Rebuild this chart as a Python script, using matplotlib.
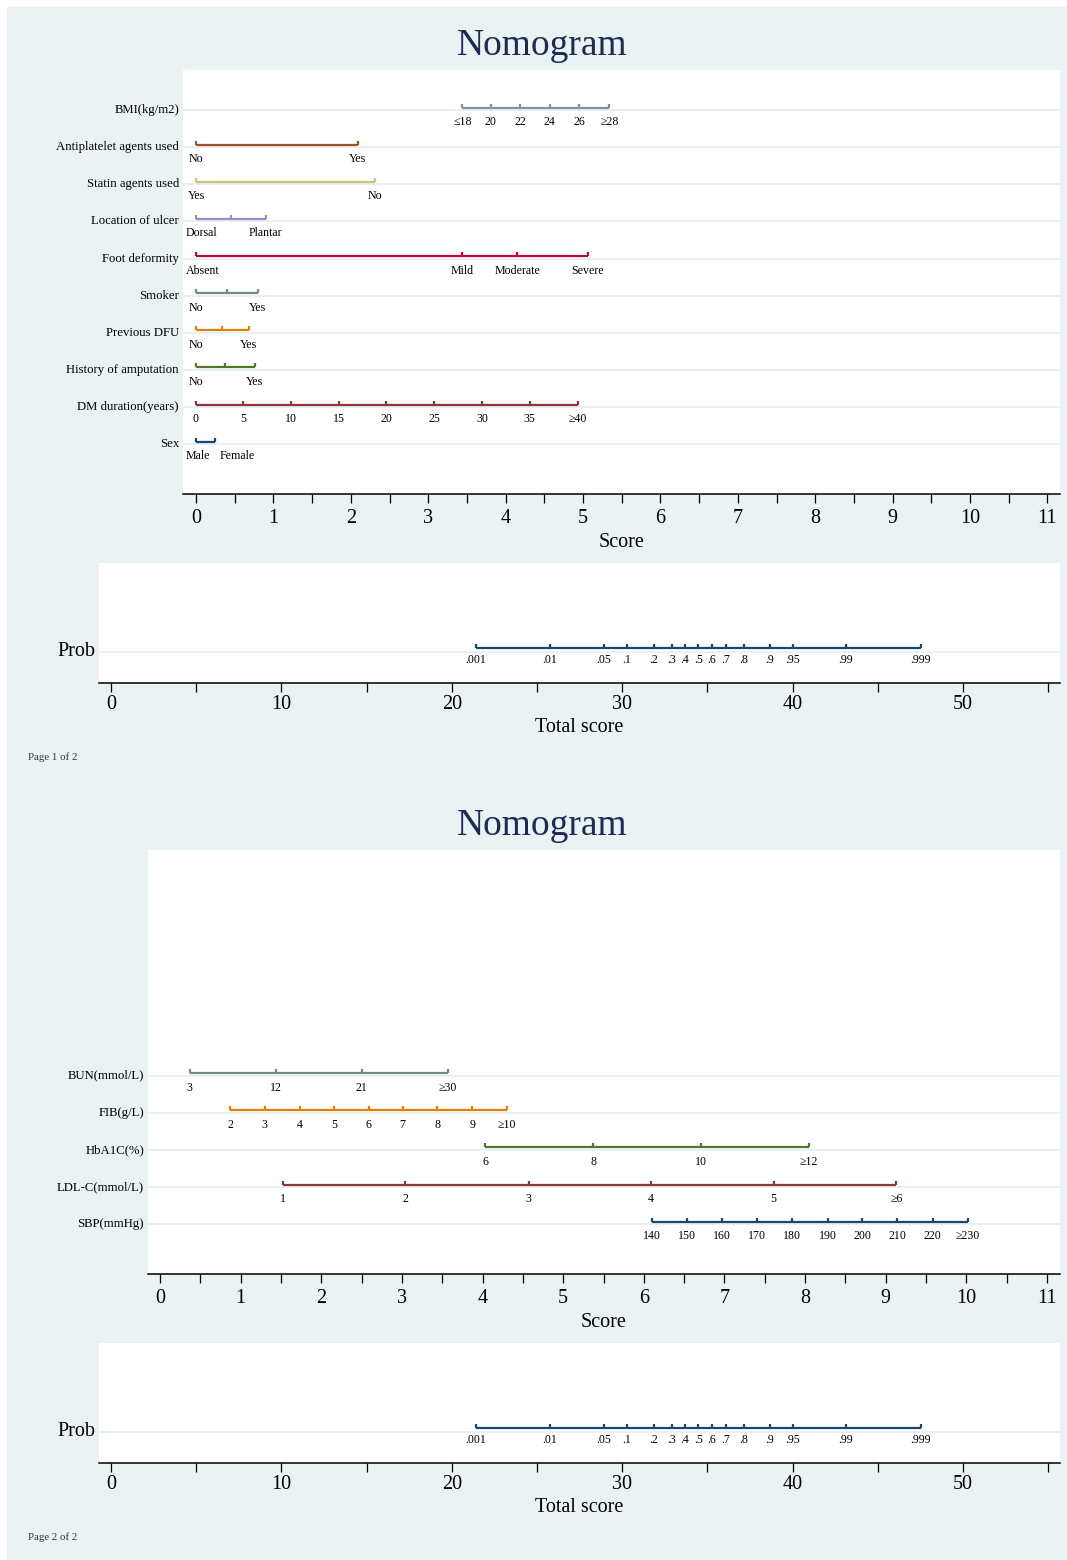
"""
Nomogram, two pages (Stata-style nomolog output)
"""

import matplotlib
matplotlib.use("Agg")
import matplotlib.pyplot as plt
from matplotlib.patches import Rectangle
import numpy as np

plt.rcParams['font.family'] = ['Liberation Serif', 'DejaVu Serif']

W, H = 1067, 1560
bg = '#eaf2f3'
grid_col = '#e8f1f2'
title_col = '#1c2a55'

# stata s2color palette
navy = '#1a476f'
maroon = '#90353b'
forest = '#55752f'
dkorange = '#e37e00'
teal = '#6e8e84'
cranberry = '#c10534'
lavender = '#938dd2'
khaki = '#cac27e'
sienna = '#a0522d'
emidblue = '#7b92a8'

# ---- page 1 data (score points) ----
bmi_lab = ['≤18', '20', '22', '24', '26', '≥28']
bmi_pts = [3.44, 3.81, 4.19, 4.57, 4.95, 5.34]
anti_lab = ['No', 'Yes']
anti_pts = [0, 2.09]
statin_lab = ['Yes', 'No']
statin_pts = [0, 2.31]
loc_lab = ['Dorsal', '', 'Plantar']
loc_pts = [0, 0.45, 0.90]
foot_lab = ['Absent', 'Mild', 'Moderate', 'Severe']
foot_pts = [0, 3.44, 4.15, 5.06]
smoke_lab = ['No', '', 'Yes']
smoke_pts = [0, 0.40, 0.80]
dfu_lab = ['No', '', 'Yes']
dfu_pts = [0, 0.34, 0.68]
amp_lab = ['No', '', 'Yes']
amp_pts = [0, 0.38, 0.76]
dm_lab = ['0', '5', '10', '15', '20', '25', '30', '35', '≥40']
dm_pts = [0, 0.61, 1.23, 1.85, 2.46, 3.08, 3.70, 4.31, 4.93]
sex_lab = ['Male', 'Female']
sex_pts = [0, 0.24]

# ---- page 2 data ----
bun_lab = ['3', '12', '21', '≥30']
bun_pts = [0.37, 1.44, 2.50, 3.57]
fib_lab = ['2', '3', '4', '5', '6', '7', '8', '9', '≥10']
fib_pts = [0.87, 1.30, 1.73, 2.16, 2.59, 3.01, 3.44, 3.87, 4.30]
hba_lab = ['6', '8', '10', '≥12']
hba_pts = [4.03, 5.37, 6.71, 8.05]
ldl_lab = ['1', '2', '3', '4', '5', '≥6']
ldl_pts = [1.53, 3.04, 4.57, 6.09, 7.61, 9.13]
sbp_lab = ['140', '150', '160', '170', '180', '190', '200', '210', '220', '≥230']
sbp_pts = [6.10, 6.54, 6.97, 7.40, 7.84, 8.28, 8.71, 9.14, 9.58, 10.02]

# ---- probability scale (total score) ----
prob_lab = ['.001', '.01', '.05', '.1', '.2', '.3', '.4', '.5', '.6', '.7',
            '.8', '.9', '.95', '.99', '.999']
prob_pts = [21.40, 25.75, 28.91, 30.27, 31.86, 32.90, 33.66, 34.46, 35.26,
            36.10, 37.14, 38.65, 40.01, 43.12, 47.52]

rows1 = [
    ('BMI(kg/m2)', bmi_pts, bmi_lab, emidblue),
    ('Antiplatelet agents used', anti_pts, anti_lab, sienna),
    ('Statin agents used', statin_pts, statin_lab, khaki),
    ('Location of ulcer', loc_pts, loc_lab, lavender),
    ('Foot deformity', foot_pts, foot_lab, cranberry),
    ('Smoker', smoke_pts, smoke_lab, teal),
    ('Previous DFU', dfu_pts, dfu_lab, dkorange),
    ('History of amputation', amp_pts, amp_lab, forest),
    ('DM duration(years)', dm_pts, dm_lab, maroon),
    ('Sex', sex_pts, sex_lab, navy),
]
rows2 = [
    ('BUN(mmol/L)', bun_pts, bun_lab, teal),
    ('FIB(g/L)', fib_pts, fib_lab, dkorange),
    ('HbA1C(%)', hba_pts, hba_lab, forest),
    ('LDL-C(mmol/L)', ldl_pts, ldl_lab, maroon),
    ('SBP(mmHg)', sbp_pts, sbp_lab, navy),
]

ROW = 37.14   # px per row slot
lw = 1.6


def px_rect(x0, y0, x1, y1):
    return [x0 / W, 1 - y1 / H, (x1 - x0) / W, (y1 - y0) / H]


fig = plt.figure(figsize=(W / 100, H / 100), dpi=100)
fig.patch.set_facecolor('white')
fig.patches.append(Rectangle((7 / W, 0), 1 - 7 / W, 1 - 7 / H,
                             transform=fig.transFigure, color=bg, zorder=-10))


def setup(rect, xlim, ylim, major, minor, xlabel, pad=2, labelpad=3):
    ax = fig.add_axes(rect)
    ax.set_facecolor('white')
    ax.set_xlim(*xlim)
    ax.set_ylim(*ylim)
    for s in ['top', 'left', 'right']:
        ax.spines[s].set_visible(False)
    ax.spines['bottom'].set_linewidth(1.1)
    ax.set_yticks([])
    ax.set_xticks(major)
    ax.set_xticks(minor, minor=True)
    ax.tick_params(axis='x', which='both', direction='out', length=6.5,
                   width=0.9, pad=pad, labelsize=14.5)
    ax.set_xlabel(xlabel, fontsize=14.5, labelpad=labelpad)
    return ax


def draw_row(ax, y, name, pts, labels, color, seg_off, tick_h, lab_off,
             name_fs=9.2):
    ax.axhline(y, color=grid_col, lw=1.4, zorder=1)
    ys = y + seg_off
    ax.plot([pts[0], pts[-1]], [ys, ys], color=color, lw=lw,
            solid_capstyle='butt', zorder=3)
    ax.vlines(pts, ys - tick_h, ys, color=color, lw=lw, zorder=3)
    texts = []
    for p, l in zip(pts, labels):
        if l:
            texts.append(ax.text(p, y + lab_off, l, ha='center', va='center',
                                 fontsize=8.6, zorder=4))
    ax.annotate(name, xy=(0, y), xycoords=('axes fraction', 'data'),
                xytext=(-4, 0), textcoords='offset pixels',
                ha='right', va='center', fontsize=name_fs)
    return texts


def fix_labels(ax, texts, gap=9):
    # keep value labels inside the plot region and apart from each other
    r = fig.canvas.get_renderer()
    left = ax.get_window_extent(r).x0 + 3
    prev = None
    for t in texts:
        bb = t.get_window_extent(r)
        lo = left if prev is None else prev + gap
        if bb.x0 < lo:
            xd, yd = t.get_position()
            px = ax.transData.transform((xd, yd))
            t.set_x(ax.transData.inverted().transform((px[0] + lo - bb.x0, px[1]))[0])
            bb = t.get_window_extent(r)
        prev = bb.x1


score_major = np.arange(0, 12)
score_minor = np.arange(0.5, 11, 1.0)
tot_major = np.arange(0, 60, 10)
tot_minor = np.arange(5, 60, 10)

pages = [
    dict(dy=0, left=183, rows=rows1, first=0, zero=196, unit=77.4, page='Page 1 of 2'),
    dict(dy=780, left=148, rows=rows2, first=5, zero=160, unit=80.64, page='Page 2 of 2'),
]

for pg in pages:
    dy = pg['dy']
    fig.text(542 / W, 1 - (55 + dy) / H, 'Nomogram', ha='center', va='baseline',
             fontsize=27, color=title_col)

    # score panel
    top, axis_y, right = 70 + dy, 494 + dy, 1060
    first_grid = 110 + dy
    last_grid = first_grid + 9 * ROW
    xl = ((pg['left'] - pg['zero']) / pg['unit'], (right - pg['zero']) / pg['unit'])
    yl = (9 + (axis_y - last_grid) / ROW, -(first_grid - top) / ROW)
    ax = setup(px_rect(pg['left'], top, right, axis_y), xl, yl,
               score_major, score_minor, 'Score', pad=4, labelpad=4)
    for k, (name, pts, labs, col) in enumerate(pg['rows']):
        texts = draw_row(ax, pg['first'] + k, name, pts, labs, col,
                         -2.5 / ROW, 4 / ROW, 12 / ROW)
        fix_labels(ax, texts)

    # probability panel
    ptop, paxis, pgrid = 563 + dy, 683 + dy, 651.7 + dy
    axp = setup(px_rect(99, ptop, right, paxis), (-0.70, 55.69),
                ((paxis - pgrid) / ROW, -(pgrid - ptop) / ROW),
                tot_major, tot_minor, 'Total score')
    draw_row(axp, 0, 'Prob', prob_pts, prob_lab, navy,
             -4 / ROW, 4 / ROW, 8.5 / ROW, name_fs=14.5)

    fig.text(28 / W, 1 - (760 + dy) / H, pg['page'], ha='left', va='baseline',
             fontsize=7.8, color='#333333')

fig.savefig('out.png', dpi=100, facecolor=fig.get_facecolor())
